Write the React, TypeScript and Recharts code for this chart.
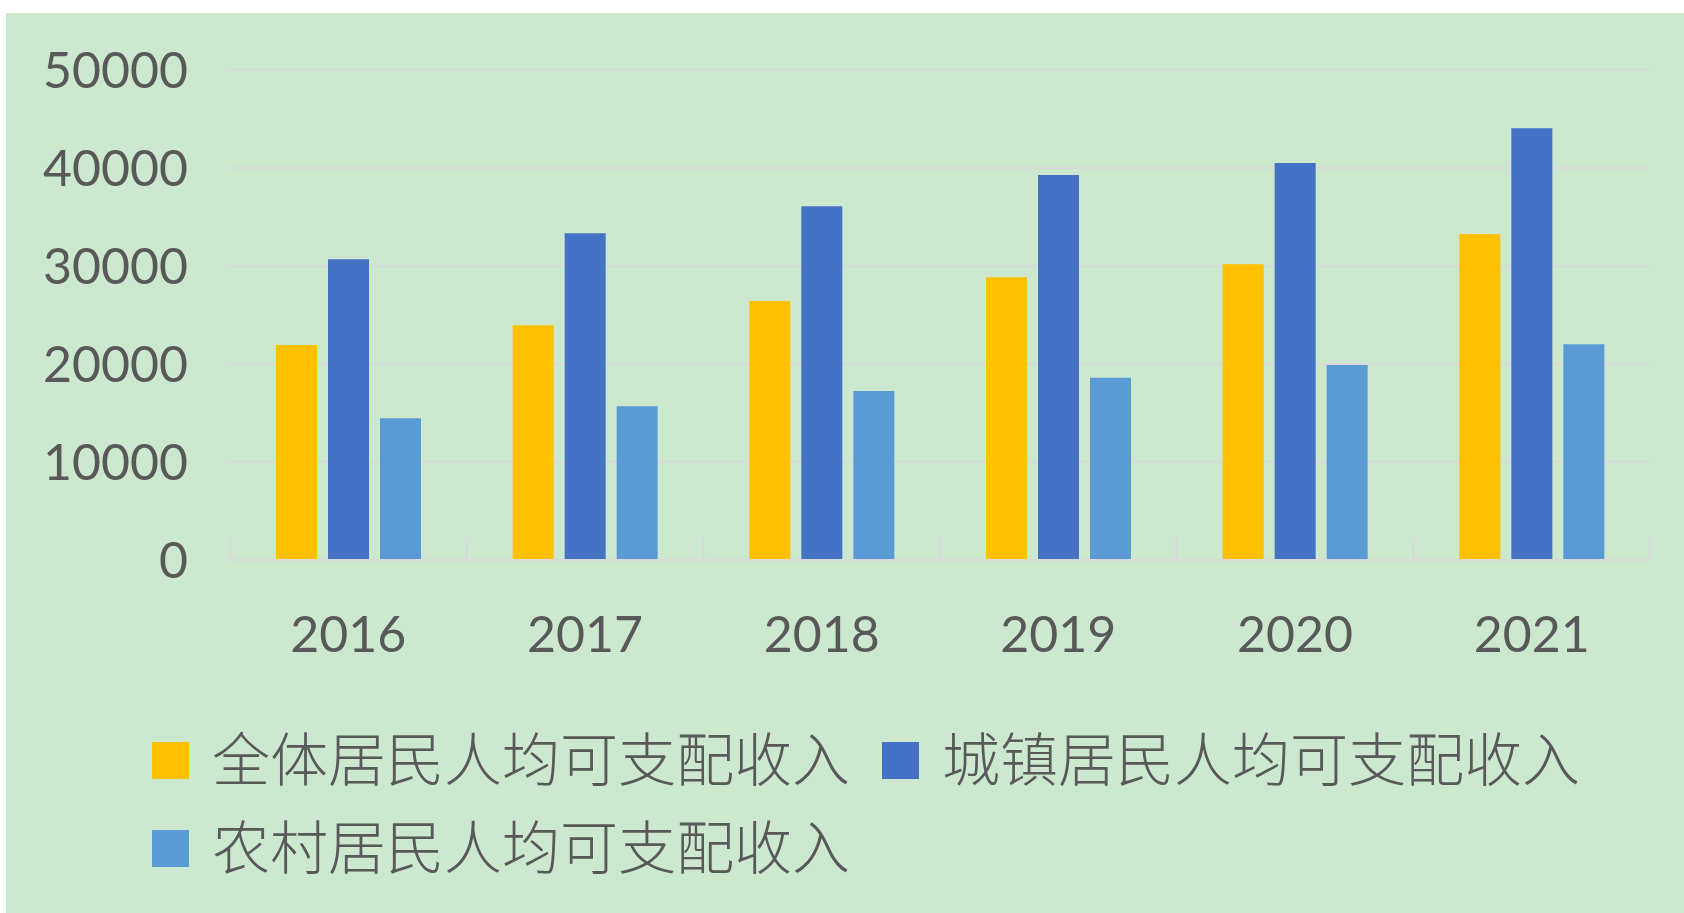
import React from "react";
import { BarChart, Bar, XAxis, YAxis, CartesianGrid, Legend } from "recharts";

// 年份与三组收入数据（元）
const years = ["2016", "2017", "2018", "2019", "2020", "2021"];
const allResidents = [21940, 23950, 26430, 28850, 30170, 33270];
const urbanResidents = [30680, 33330, 36090, 39290, 40510, 44050];
const ruralResidents = [14460, 15680, 17240, 18600, 19900, 22010];
const yTicks = [0, 10000, 20000, 30000, 40000, 50000];

const seriesNames = ["全体居民人均可支配收入", "城镇居民人均可支配收入", "农村居民人均可支配收入"];
const COLORS = ["#FFC000", "#4472C4", "#5B9BD5"];

const data = years.map((year, i) => ({
  year,
  all: allResidents[i],
  urban: urbanResidents[i],
  rural: ruralResidents[i],
}));

const TEXT = "#595959";
const GRID = "#D9D9D9";
const NUM_FONT = "Lato, 'Open Sans', sans-serif";
const CJK_FONT = "'Noto Sans CJK SC', sans-serif";

function YearTick(props: any) {
  const { x, y, payload, index, visibleTicksCount } = props;
  const half = payload.offset || 0;
  const isLast = index === visibleTicksCount - 1;
  return (
    <g>
      <line x1={x - half} x2={x - half} y1={y} y2={y - 22} stroke={GRID} strokeWidth={2} />
      {isLast && (
        <line x1={x + half} x2={x + half} y1={y} y2={y - 22} stroke={GRID} strokeWidth={2} />
      )}
      <text x={x} y={y + 92} textAnchor="middle" fill={TEXT} fontSize={50} fontFamily={NUM_FONT}>
        {payload.value}
      </text>
    </g>
  );
}

// legend keeps series order (Recharts would sort the payload)
function IncomeLegend() {
  return (
    <div style={{ display: "flex", flexWrap: "wrap", width: 1460, columnGap: 32 }}>
      {seriesNames.map((name, i) => (
        <div key={name} style={{ display: "flex", alignItems: "center", height: 88 }}>
          <div style={{ width: 37, height: 37, background: COLORS[i], marginRight: 23 }} />
          <span
            style={{
              fontFamily: CJK_FONT,
              fontSize: 58,
              fontWeight: 300,
              color: TEXT,
              lineHeight: "88px",
              whiteSpace: "nowrap",
              position: "relative",
              top: -4,
            }}
          >
            {name}
          </span>
        </div>
      ))}
    </div>
  );
}

export default function App() {
  return (
    <div style={{ position: "absolute", left: 0, top: 0, width: 1684, height: 913, background: "#ffffff" }}>
      <div style={{ position: "absolute", left: 6, top: 13, width: 1678, height: 900, background: "#CCE8CF" }}>
        <BarChart
          width={1678}
          height={900}
          data={data}
          margin={{ top: 57, right: 34, left: 0, bottom: 253 }}
          barSize={41}
          barGap={11}
        >
          <CartesianGrid vertical={false} stroke={GRID} strokeWidth={2} />
          <XAxis
            dataKey="year"
            height={100}
            axisLine={{ stroke: GRID, strokeWidth: 2 }}
            tickLine={false}
            tickSize={0}
            tickMargin={0}
            interval={0}
            tick={<YearTick />}
          />
          <YAxis
            width={224}
            domain={[0, 50000]}
            ticks={yTicks}
            axisLine={false}
            tickLine={false}
            tickSize={0}
            tickMargin={42}
            tick={{ fill: TEXT, fontSize: 50, fontFamily: NUM_FONT }}
          />
          <Legend
            layout="horizontal"
            verticalAlign="middle"
            align="center"
            wrapperStyle={{ position: "absolute", left: 146, top: 703, width: 1460 }}
            content={<IncomeLegend />}
          />
          <Bar dataKey="all" name={seriesNames[0]} fill={COLORS[0]} isAnimationActive={false} />
          <Bar dataKey="urban" name={seriesNames[1]} fill={COLORS[1]} isAnimationActive={false} />
          <Bar dataKey="rural" name={seriesNames[2]} fill={COLORS[2]} isAnimationActive={false} />
        </BarChart>
      </div>
    </div>
  );
}
